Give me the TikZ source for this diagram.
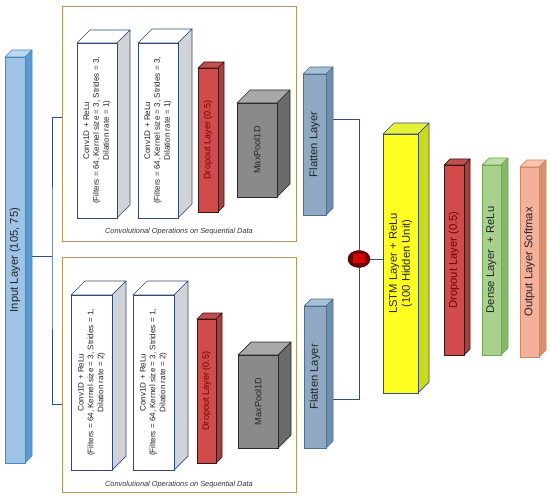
\documentclass[tikz,border=0pt]{standalone}
\usepackage{fontspec}
\setmainfont{Liberation Sans}
\usetikzlibrary{fit,shapes.geometric}

% layer colours: F front, S side, T top, B border
\definecolor{inF}{HTML}{9DC3E6}\definecolor{inS}{HTML}{5B9BD5}\definecolor{inT}{HTML}{BDD7EE}\definecolor{inB}{HTML}{4A86C0}
\definecolor{cvF}{HTML}{FFFFFF}\definecolor{cvS}{HTML}{D0D4D8}\definecolor{cvT}{HTML}{FFFFFF}\definecolor{cvB}{HTML}{2F4A7A}
\definecolor{dpF}{HTML}{D24B4B}\definecolor{dpS}{HTML}{A84040}\definecolor{dpT}{HTML}{C05050}\definecolor{dpB}{HTML}{3A1414}
\definecolor{mpF}{HTML}{8A8A8A}\definecolor{mpS}{HTML}{6A6A6A}\definecolor{mpT}{HTML}{A8A8A8}\definecolor{mpB}{HTML}{2A2A2A}
\definecolor{flF}{HTML}{8EA9C1}\definecolor{flS}{HTML}{6F8FAE}\definecolor{flT}{HTML}{A8C0D4}\definecolor{flB}{HTML}{4F6F90}
\definecolor{lsF}{HTML}{FFFF22}\definecolor{lsS}{HTML}{C8DC1E}\definecolor{lsT}{HTML}{E6F23A}\definecolor{lsB}{HTML}{3A4F80}
\definecolor{dnF}{HTML}{A9D18E}\definecolor{dnS}{HTML}{86B86A}\definecolor{dnT}{HTML}{BEE0A8}\definecolor{dnB}{HTML}{70A850}
\definecolor{ouF}{HTML}{F4B09A}\definecolor{ouS}{HTML}{D8906E}\definecolor{ouT}{HTML}{F8C4B0}\definecolor{ouB}{HTML}{D08A5A}
\definecolor{boxc}{HTML}{B8955A}
\definecolor{linkc}{HTML}{2F4F7F}

\pgfdeclarelayer{bg}
\pgfsetlayers{bg,main}

% #1 name, #2 left, #3 top, #4 right, #5 bottom, #6 depth, #7 colour, #8 text style, #9 text
\newcommand{\layerblock}[9]{%
  \filldraw[draw=#7B, fill=#7T, line width=1pt, line join=round] (#2,#3) -- ({#2+#6},{#3-#6}) -- ({#4+#6},{#3-#6}) -- (#4,#3) -- cycle;
  \filldraw[draw=#7B, fill=#7S, line width=1pt, line join=round] (#4,#3) -- ({#4+#6},{#3-#6}) -- ({#4+#6},{#5-#6}) -- (#4,#5) -- cycle;
  \node[draw=#7B, fill=#7F, line width=1pt, inner sep=0pt, fit={(#2,#3) (#4,#5)}] (#1) {};
  \node[rotate=90, align=center, #8] (#1-txt) at (#1.center) {#9};
}

\begin{document}
\begin{tikzpicture}[x=0.05cm, y=-0.05cm,
  cbox/.style={draw=boxc, line width=1.2pt, inner sep=0pt},
  capt/.style={font=\fontsize{10.5}{12}\selectfont\itshape, text=black!80},
  link/.style={draw=linkc, line width=1pt},
  big/.style={font=\fontsize{16}{18.5}\selectfont, text=black!85},
  conv/.style={font=\fontsize{11.5}{14}\selectfont, text=black!85},
  small/.style={font=\fontsize{13}{15}\selectfont}]
\useasboundingbox (0,0) rectangle (550,498);

% conv boxes
\node[cbox, fit={(62,6) (296,241)}] (topbox) {};
\node[cbox, fit={(62,257) (296,492)}] (botbox) {};
\node[capt] (cap1) at (179,232) {Convolutional Operations on Sequential Data};
\node[capt] (cap2) at (179,485) {Convolutional Operations on Sequential Data};

% input
\layerblock{inp}{5}{57}{25}{463}{7}{in}{big}{Input Layer (105, 75)}

% upper branch
\layerblock{conv1a}{77}{43}{117}{218}{13}{cv}{conv}{Conv1D + ReLu\\(Filters = 64, Kernel size = 3, Strides = 3,\\Dilation rate = 1)}
\layerblock{conv1b}{138}{43}{178}{218}{14}{cv}{conv}{Conv1D + ReLu\\(Filters = 64, Kernel size = 3, Strides = 3,\\Dilation rate = 1)}
\layerblock{drop1}{198}{68}{218}{212}{6}{dp}{small, text=red!45!black}{Dropout Layer (0.5)}
\layerblock{pool1}{237}{103}{277}{197}{13}{mp}{small, text=black!85}{MaxPool1D}
\layerblock{flat1}{303}{74}{326}{215}{7}{fl}{big}{Flatten Layer}

% lower branch
\layerblock{conv2a}{71}{295}{112}{470}{14}{cv}{conv}{Conv1D + ReLu\\(Filters = 64, Kernel size = 3, Strides = 1,\\Dilation rate = 2)}
\layerblock{conv2b}{133}{295}{174}{470}{14}{cv}{conv}{Conv1D + ReLu\\(Filters = 64, Kernel size = 3, Strides = 1,\\Dilation rate = 2)}
\layerblock{drop2}{197}{319}{216}{463}{6}{dp}{small, text=red!45!black}{Dropout Layer (0.5)}
\layerblock{pool2}{238}{355}{278}{448}{13}{mp}{small, text=black!85}{MaxPool1D}
\layerblock{flat2}{304}{306}{326}{448}{7}{fl}{big}{Flatten Layer}

% head
\node[ellipse, draw=black!70!red, fill=red!45!black, line width=0.8pt, minimum width=1.1cm, minimum height=0.85cm, inner sep=0pt] (sum) at (359,259) {};
\node[fill=red!85!black, minimum width=0.6cm, minimum height=0.45cm, inner sep=0pt, font=\tiny] (sumin) at (sum.center) {+};
\layerblock{lstm}{383}{134}{418}{393}{11}{ls}{big}{LSTM Layer + ReLu\\(100 Hidden Unit)}
\layerblock{drop3}{444}{165}{464}{355}{6}{dp}{big, text=red!45!black}{Dropout Layer (0.5)}
\layerblock{dense}{482}{165}{501}{355}{7}{dn}{big}{Dense Layer ~+ ReLu}
\layerblock{outp}{520}{167}{539}{357}{7}{ou}{big}{Output Layer Softmax}

% connectors
\begin{pgfonlayer}{bg}
\coordinate (split) at (52,256);
\draw[link] (inp.east |- split) -- (split);
\draw[link] (topbox.west |- 0,117) -| (split) |- (botbox.west |- 0,404);
\draw[link] (flat1.east |- 0,119) -| (sum.north);
\draw[link] (flat2.east |- 0,399) -| (sum.south);
\draw[link] (sum.east) -- (lstm.west |- sum.east);
\end{pgfonlayer}

\end{tikzpicture}
\end{document}
